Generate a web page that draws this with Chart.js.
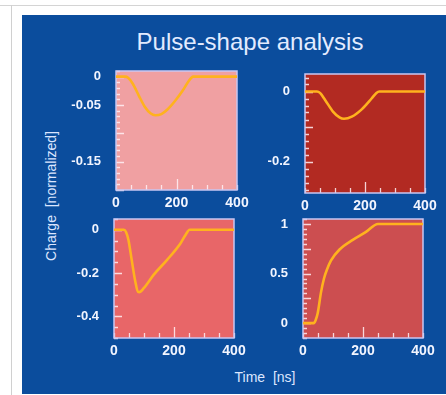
<!DOCTYPE html>
<html>
<head>
<meta charset="utf-8">
<script src="https://cdn.jsdelivr.net/npm/chart.js@4.4.1/dist/chart.umd.min.js"></script>
<style>
  html, body { margin: 0; padding: 0; background: #ffffff; }
  body { width: 446px; height: 395px; position: relative; overflow: hidden; font-family: "Liberation Sans", Arial, sans-serif; }
  .frame-h { position: absolute; left: 0; top: 5px; width: 446px; height: 1px; background: #d4d4d4; }
  .frame-v { position: absolute; left: 11px; top: 5px; width: 1px; height: 390px; background: #d0d0d0; }
  .slide { position: absolute; left: 22px; top: 15px; width: 424px; height: 379px; background: #0b4d9d; }
  .title { position: absolute; left: 50px; width: 400px; top: 30px; text-align: center; font-size: 24px; line-height: 24px; color: #e2ebff; }
  .ytitle { position: absolute; left: 51px; top: 196px; transform: translate(-50%, -50%) rotate(-90deg); white-space: pre; font-size: 14px; color: #dce6ff; }
  .xtitle { position: absolute; left: 265px; top: 377px; transform: translate(-50%, -50%); white-space: pre; font-size: 14px; color: #dce6ff; }
  .panel { position: absolute; }
</style>
</head>
<body>
<div class="frame-h"></div>
<div class="frame-v"></div>
<div class="slide"></div>
<div class="title">Pulse-shape analysis</div>
<div class="ytitle">Charge  [normalized]</div>
<div class="xtitle">Time  [ns]</div>
<div class="panel" id="p1"><canvas id="c1"></canvas></div>
<div class="panel" id="p2"><canvas id="c2"></canvas></div>
<div class="panel" id="p3"><canvas id="c3"></canvas></div>
<div class="panel" id="p4"><canvas id="c4"></canvas></div>
<script>
// pulse shapes, time in ns
const p1Time = [0, 30, 40, 55, 75, 95, 115, 130, 150, 170, 195, 220, 240, 255, 400];
const p1Charge = [0, 0, -0.002, -0.012, -0.033, -0.053, -0.065, -0.068, -0.066, -0.058, -0.043, -0.025, -0.008, 0, 0];

const p2Time = [0, 40, 50, 67, 94, 115, 130, 156, 189, 222, 238, 248, 400];
const p2Charge = [0, 0, -0.004, -0.024, -0.058, -0.074, -0.078, -0.072, -0.051, -0.02, -0.004, 0, 0];

const p3Time = [0, 33, 40, 48, 59, 71, 80, 84, 99, 132, 177, 222, 240, 252, 400];
const p3Charge = [0, 0, -0.01, -0.046, -0.139, -0.239, -0.287, -0.288, -0.27, -0.208, -0.139, -0.062, -0.02, 0, 0];

const p4Time = [0, 36, 42, 49, 60, 70, 80, 93, 121, 166, 210, 250, 400];
const p4Charge = [0, 0, 0.03, 0.1, 0.31, 0.45, 0.54, 0.63, 0.74, 0.84, 0.92, 1, 1];

// tick labels
const xLabels = [0, 200, 400];
const p1YLabels = [0, -0.05, -0.15];
const p2YLabels = [0, -0.2];
const p3YLabels = [0, -0.2, -0.4];
const p4YLabels = [0, 0.5, 1];

const panels = [
    { el: "p1", canvas: "c1", rect: [116, 71, 237, 190], bg: "#f0a0a2", time: p1Time, charge: p1Charge,
      yMin: -0.2, yMax: 0.01, yStep: 0.01, yMajor: 0.05, yLabels: p1YLabels },
    { el: "p2", canvas: "c2", rect: [305, 74, 425, 193], bg: "#b22a22", time: p2Time, charge: p2Charge,
      yMin: -0.29, yMax: 0.05, yStep: 0.02, yMajor: 0.1, yLabels: p2YLabels },
    { el: "p3", canvas: "c3", rect: [114, 219, 234, 338], bg: "#e86668", time: p3Time, charge: p3Charge,
      yMin: -0.5, yMax: 0.05, yStep: 0.05, yMajor: 0.2, yLabels: p3YLabels },
    { el: "p4", canvas: "c4", rect: [303, 219, 423, 338], bg: "#cc4e50", time: p4Time, charge: p4Charge,
      yMin: -0.15, yMax: 1.05, yStep: 0.05, yMajor: 0.25, yLabels: p4YLabels }
];

const PAD_L = 60, PAD_T = 12, PAD_R = 18, PAD_B = 28;

function near(a, b) { return Math.abs(a - b) < 1e-6; }
function isMultiple(v, step) { const r = v / step; return Math.abs(r - Math.round(r)) < 1e-6; }
function fmt(v) { const n = Number(v.toFixed(3)); return n === 0 ? "0" : String(n); }

// panel fill, frame and inward tick marks
const panelDecor = {
    id: "panelDecor",
    beforeDraw(chart, args, opts) {
        const a = chart.chartArea;
        const ctx = chart.ctx;
        ctx.save();
        ctx.fillStyle = opts.bg;
        ctx.fillRect(a.left, a.top, a.right - a.left, a.bottom - a.top);
        ctx.restore();
    },
    beforeDatasetsDraw(chart, args, opts) {
        const a = chart.chartArea;
        const ctx = chart.ctx;
        const xs = chart.scales.x, ys = chart.scales.y;
        ctx.save();
        ctx.strokeStyle = "rgba(255, 240, 245, 0.85)";
        ctx.lineWidth = 1.3;
        ctx.beginPath();
        ys.ticks.forEach(t => {
            const y = Math.round(ys.getPixelForValue(t.value)) + 0.5;
            const len = isMultiple(t.value, opts.yMajor) ? 8 : 4;
            ctx.moveTo(a.left, y);
            ctx.lineTo(a.left + len, y);
        });
        xs.ticks.forEach(t => {
            const x = Math.round(xs.getPixelForValue(t.value)) + 0.5;
            const len = near(t.value, 200) ? 11 : 5;
            ctx.moveTo(x, a.bottom);
            ctx.lineTo(x, a.bottom - len);
        });
        ctx.stroke();
        ctx.strokeStyle = "#c9c6f2";
        ctx.lineWidth = 1.5;
        ctx.strokeRect(a.left, a.top, a.right - a.left, a.bottom - a.top);
        ctx.restore();
    }
};

const xFont = { family: "'Liberation Sans', Arial, sans-serif", size: 14, weight: "bold" };
const yFont = { family: "'Liberation Sans', Arial, sans-serif", size: 13, weight: "bold" };

panels.forEach(p => {
    const [l, t, r, b] = p.rect;
    const box = document.getElementById(p.el);
    box.style.left = (l - PAD_L) + "px";
    box.style.top = (t - PAD_T) + "px";
    box.style.width = (r - l + PAD_L + PAD_R) + "px";
    box.style.height = (b - t + PAD_T + PAD_B) + "px";

    const points = p.time.map((x, i) => ({ x: x, y: p.charge[i] }));

    new Chart(document.getElementById(p.canvas), {
        type: "line",
        data: {
            datasets: [{
                data: points,
                borderColor: "#ffb21e",
                borderWidth: 2.6,
                pointRadius: 0,
                cubicInterpolationMode: "monotone",
                fill: false
            }]
        },
        options: {
            responsive: true,
            maintainAspectRatio: false,
            animation: false,
            events: [],
            layout: { padding: { left: 0, top: PAD_T, right: PAD_R, bottom: 0 } },
            plugins: {
                legend: { display: false },
                tooltip: { enabled: false },
                panelDecor: { bg: p.bg, yMajor: p.yMajor }
            },
            scales: {
                x: {
                    type: "linear",
                    min: 0,
                    max: 400,
                    grid: { display: false, drawTicks: false },
                    border: { display: false },
                    afterBuildTicks: s => {
                        const ticks = [];
                        for (let v = 0; v <= 400; v += 50) ticks.push({ value: v });
                        s.ticks = ticks;
                    },
                    afterFit: s => {
                        s.height = PAD_B;
                        s.paddingLeft = 0;
                        s.paddingRight = 0;
                    },
                    ticks: {
                        autoSkip: false,
                        maxRotation: 0,
                        padding: 5,
                        color: "#f2f5ff",
                        font: xFont,
                        callback: v => xLabels.some(x => near(x, v)) ? fmt(v) : ""
                    }
                },
                y: {
                    type: "linear",
                    min: p.yMin,
                    max: p.yMax,
                    grid: { display: false, drawTicks: false },
                    border: { display: false },
                    afterBuildTicks: s => {
                        const ticks = [];
                        const n0 = Math.ceil(p.yMin / p.yStep - 1e-6);
                        const n1 = Math.floor(p.yMax / p.yStep + 1e-6);
                        for (let n = n0; n <= n1; n++) ticks.push({ value: Number((n * p.yStep).toFixed(4)) });
                        s.ticks = ticks;
                    },
                    afterFit: s => {
                        s.width = PAD_L;
                        s.paddingTop = 0;
                        s.paddingBottom = 0;
                    },
                    ticks: {
                        autoSkip: false,
                        padding: 15,
                        color: "#f2f5ff",
                        font: yFont,
                        callback: v => p.yLabels.some(y => near(y, v)) ? fmt(v) : ""
                    }
                }
            }
        },
        plugins: [panelDecor]
    });
});
</script>
</body>
</html>
